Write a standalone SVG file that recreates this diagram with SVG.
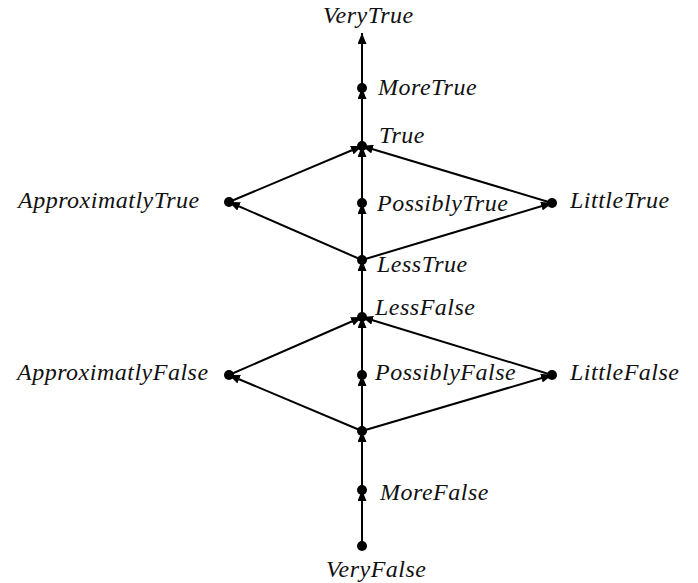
<svg xmlns="http://www.w3.org/2000/svg" width="698" height="583" viewBox="0 0 698 583">
<style>
.e{stroke:#000;stroke-width:2;fill:none;marker-end:url(#ah)}
.d{fill:#000}
.t{font-family:'Liberation Serif',serif;font-style:italic;font-size:24px;letter-spacing:0.5px;fill:#111}
</style>
<defs>
<marker id="ah" viewBox="0 0 11 9" refX="11" refY="4.5" markerWidth="11" markerHeight="9" markerUnits="userSpaceOnUse" orient="auto">
<path d="M0,0 L11,4.5 L0,9 Z" fill="#000"/>
</marker>
</defs>
<rect width="698" height="583" fill="#fff"/>
<g id="connectors">
<line class="e" x1="362" y1="546" x2="362" y2="490"/>
<line class="e" x1="362" y1="490" x2="362" y2="431"/>
<line class="e" x1="362" y1="431" x2="362" y2="375"/>
<line class="e" x1="362" y1="431" x2="229" y2="375"/>
<line class="e" x1="362" y1="431" x2="552" y2="375"/>
<line class="e" x1="362" y1="375" x2="362" y2="317"/>
<line class="e" x1="229" y1="375" x2="362" y2="317"/>
<line class="e" x1="552" y1="375" x2="362" y2="317"/>
<line class="e" x1="362" y1="317" x2="362" y2="260"/>
<line class="e" x1="362" y1="260" x2="362" y2="203"/>
<line class="e" x1="362" y1="260" x2="229" y2="202"/>
<line class="e" x1="362" y1="260" x2="552" y2="203"/>
<line class="e" x1="362" y1="203" x2="362" y2="146"/>
<line class="e" x1="229" y1="202" x2="362" y2="146"/>
<line class="e" x1="552" y1="203" x2="362" y2="146"/>
<line class="e" x1="362" y1="146" x2="362" y2="88"/>
<line class="e" x1="362" y1="88" x2="362" y2="33"/>
</g>
<g id="VeryTrue"><text class="t" x="323" y="23">VeryTrue</text></g>
<g id="MoreTrue"><circle class="d" cx="362" cy="88" r="5"/><text class="t" x="378" y="95">MoreTrue</text></g>
<g id="True"><circle class="d" cx="362" cy="146" r="5"/><text class="t" x="379" y="143">True</text></g>
<g id="ApproximatlyTrue"><circle class="d" cx="229" cy="202" r="5"/><text class="t" x="18" y="208">ApproximatlyTrue</text></g>
<g id="PossiblyTrue"><circle class="d" cx="362" cy="203" r="5"/><text class="t" x="377" y="211">PossiblyTrue</text></g>
<g id="LittleTrue"><circle class="d" cx="552" cy="203" r="5"/><text class="t" x="570" y="208">LittleTrue</text></g>
<g id="LessTrue"><circle class="d" cx="362" cy="260" r="5"/><text class="t" x="377" y="272">LessTrue</text></g>
<g id="LessFalse"><circle class="d" cx="362" cy="317" r="5"/><text class="t" x="375" y="315">LessFalse</text></g>
<g id="ApproximatlyFalse"><circle class="d" cx="229" cy="375" r="5"/><text class="t" x="17" y="380">ApproximatlyFalse</text></g>
<g id="PossiblyFalse"><circle class="d" cx="362" cy="375" r="5"/><text class="t" x="375" y="380">PossiblyFalse</text></g>
<g id="LittleFalse"><circle class="d" cx="552" cy="375" r="5"/><text class="t" x="570" y="380">LittleFalse</text></g>
<g id="Bottom"><circle class="d" cx="362" cy="431" r="5"/></g>
<g id="MoreFalse"><circle class="d" cx="362" cy="490" r="5"/><text class="t" x="380" y="500">MoreFalse</text></g>
<g id="VeryFalse"><circle class="d" cx="362" cy="546" r="5"/><text class="t" x="326" y="577">VeryFalse</text></g>
</svg>
